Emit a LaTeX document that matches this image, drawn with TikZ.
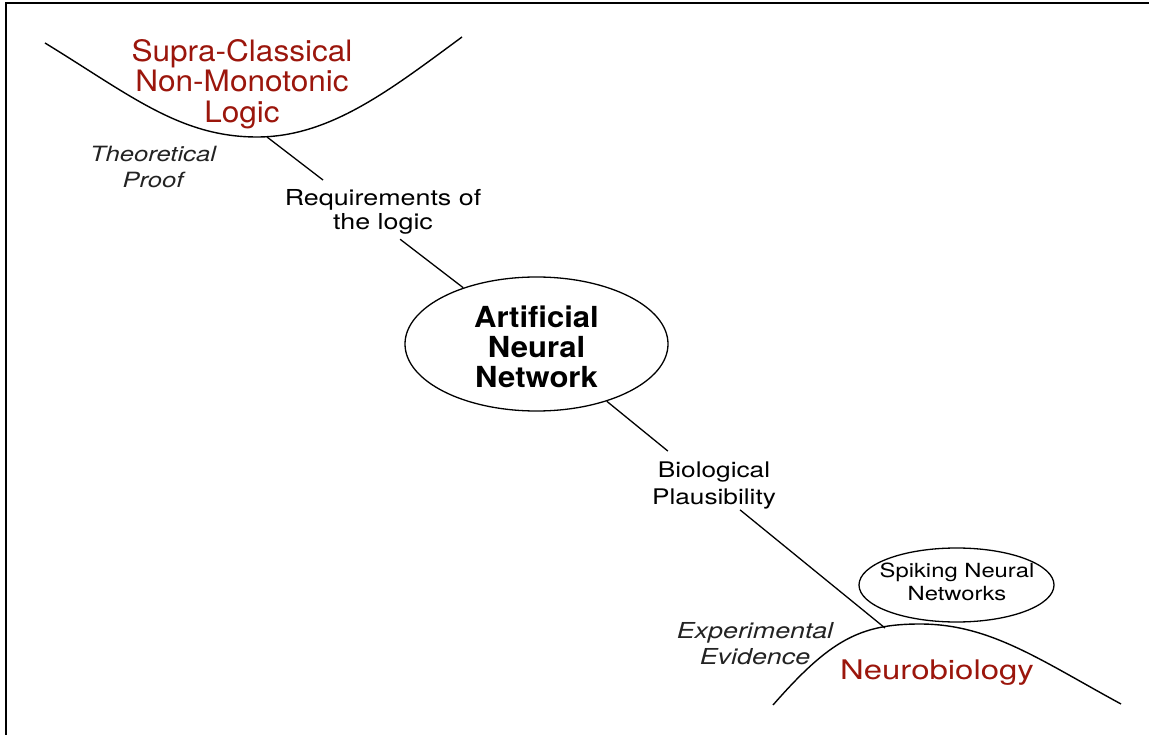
\documentclass[tikz,border=0pt]{standalone}
\usepackage{fontspec}
\setmainfont{TeX Gyre Heros}
% slightly widened Helvetica-like faces
\newfontfamily\labelfont[FakeStretch=1.22]{TeX Gyre Heros}
\newfontfamily\titlefont[FakeStretch=1.07]{TeX Gyre Heros}
\usetikzlibrary{shapes.geometric,calc}
\definecolor{fieldred}{RGB}{155,22,12}
\definecolor{notegray}{RGB}{35,35,35}

\begin{document}
\begin{tikzpicture}[x=1pt,y=-1pt,
  curve/.style={line width=1.4pt},
  link/.style={line width=1.3pt},
  bubble/.style={draw, ellipse, line width=1.3pt, inner sep=0pt},
  field/.style={text=fieldred, align=center, inner sep=0pt},
  stage/.style={align=center, inner sep=0pt},
  note/.style={align=center, inner sep=0pt, text=notegray},
]
\useasboundingbox (0,0) rectangle (1149,735);

% frame
\draw[line width=2pt] (6,745) -- (6,3.3) -- (1160,3.3);

% logic valley and neurobiology hill
\draw[curve] (45,43) .. controls (130,95) and (180,137) .. (257,137)
             .. controls (330,137) and (390,90) .. (462,37);
\coordinate (logicbase) at (267,137);
\draw[curve] (773,705) .. controls (830,640) and (860,624) .. (920,624)
             .. controls (990,624) and (1040,660) .. (1121,704);
\coordinate (biobase) at (885,628);

% fields
\node[field, font=\titlefont\fontsize{29.5}{30.5}\selectfont] (logic) at (242,84)
  {Supra-Classical\\Non-Monotonic\\Logic};
\node[field, font=\labelfont\fontsize{27}{30}\selectfont] (neuro) at (937,673) {Neurobiology};

% artificial neural network
\node[bubble, minimum width=263pt, minimum height=134pt] (ann) at (536.5,344) {};
\node[stage, font=\titlefont\bfseries\fontsize{29}{30}\selectfont] (anntext) at (536.5,346.5)
  {Artificial\\Neural\\Network};

% spiking neural networks
\node[bubble, minimum width=195pt, minimum height=74pt] (snn) at (956.5,585) {};
\node[stage, font=\labelfont\fontsize{19.5}{23}\selectfont] (snntext) at (957,581.5)
  {Spiking Neural\\Networks};

% connector labels
\node[stage, font=\labelfont\fontsize{22}{24}\selectfont] (req) at (383,212)
  {Requirements of\\the logic};
\node[stage, font=\labelfont\fontsize{21.5}{27}\selectfont] (bio) at (714,486)
  {Biological\\Plausibility};

% side notes
\node[note, font=\labelfont\itshape\fontsize{21}{26}\selectfont] (proof) at (153,167.5)
  {Theoretical\\Proof};
\node[note, font=\labelfont\itshape\fontsize{22}{26}\selectfont] (evid) at (755,644)
  {Experimental\\Evidence};

% connectors, broken around their labels
\draw[link] (logicbase) -- ($(logicbase)!0.208!(ann)$);
\draw[link] ($(logicbase)!0.494!(ann)$) -- (ann);
\draw[link] (ann) -- ($(ann)!0.377!(biobase)$);
\draw[link] ($(ann)!0.584!(biobase)$) -- (biobase);
\end{tikzpicture}
\end{document}
